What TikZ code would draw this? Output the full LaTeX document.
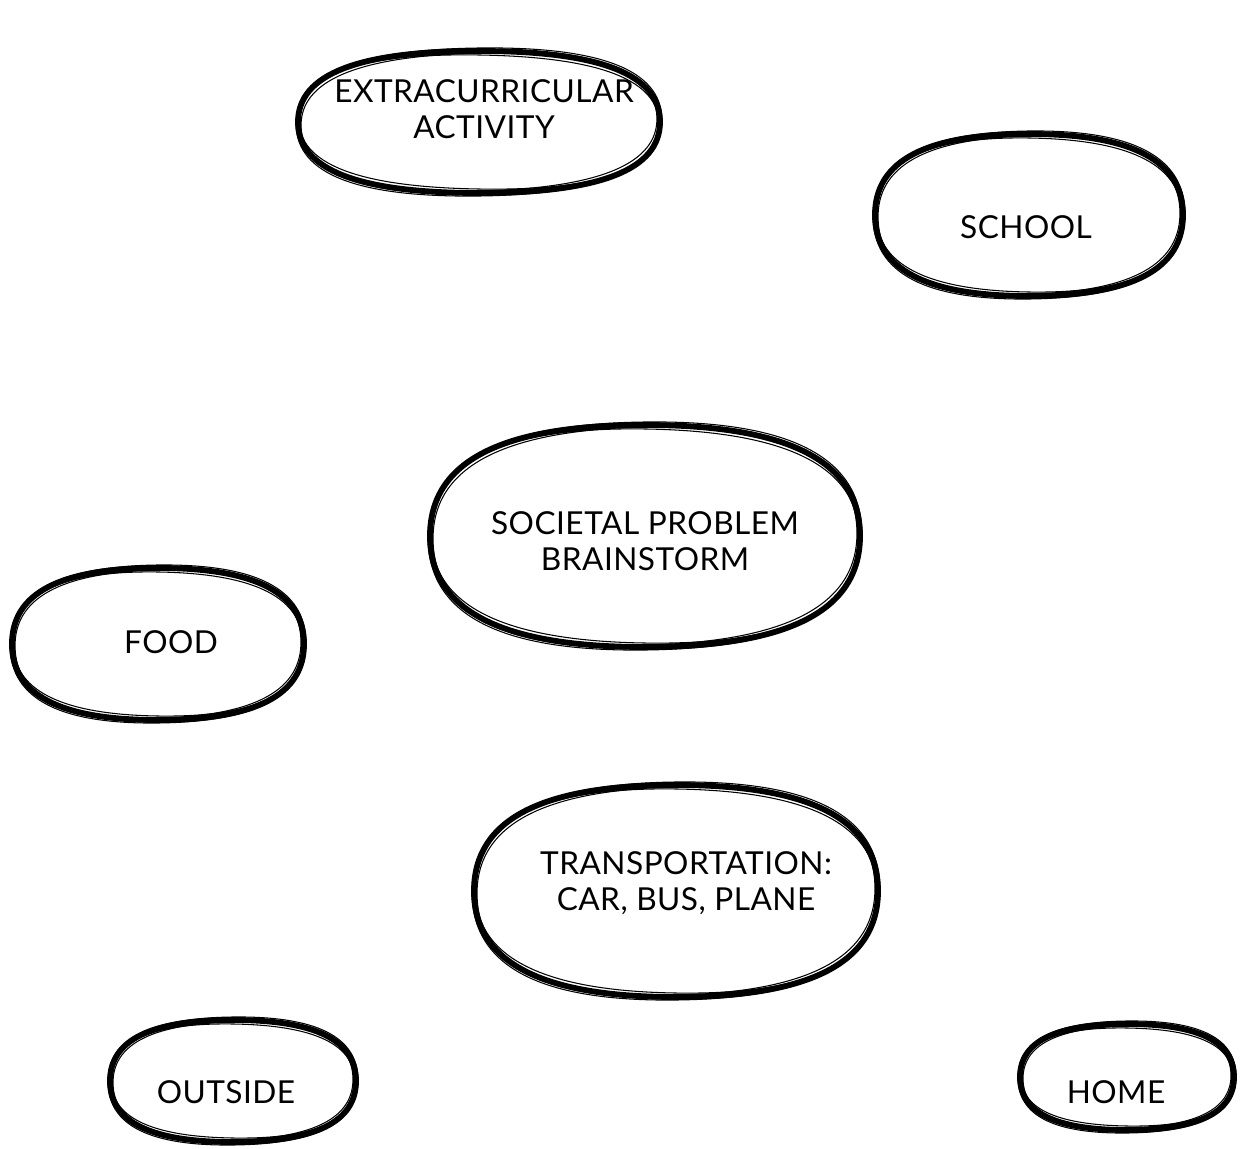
\documentclass[tikz,border=0pt]{standalone}
\usepackage{fontspec}
\setmainfont{Lato}[LetterSpace=1.5]
\usetikzlibrary{positioning}
% one hand-drawn loop: centre x, centre y, radius x, radius y, turn, style
\newcommand{\sketchloop}[6]{%
\draw[#6,shift={(#1,#2)},rotate=#5,xscale=#3,yscale=#4]
(1,0) .. controls (1,.67) and (.67,1) .. (0,1)
.. controls (-.67,1) and (-1,.67) .. (-1,0)
.. controls (-1,-.67) and (-.67,-1) .. (0,-1)
.. controls (.67,-1) and (1,-.67) .. (1,0) -- cycle;}
% three strokes round one spot
\newcommand{\bubble}[4]{%
\sketchloop{#1}{#2}{#3-2}{#4-2}{0}{heavy}
\sketchloop{#1}{#2}{#3-5}{#4-4}{1.5}{fine}
\sketchloop{#1}{#2}{#3-3}{#4-6}{-1}{fine}
\sketchloop{#1}{#2}{#3}{#4+1}{.8}{fine}}

\begin{document}
\begin{tikzpicture}
[x=0.02cm,y=-0.02cm,
heavy/.style={black,line width=3.3pt,line join=round},
fine/.style={black,line width=.6pt},
word/.style={align=center,inner sep=0pt,font=\fontsize{18}{20.4}\selectfont}]
\useasboundingbox (0,0) rectangle (1245,1149);
%%
\node[word] (extra) at (484,109) {EXTRACURRICULAR\\ACTIVITY};
\node[word] (school) at (1026,227) {SCHOOL};
\node[word] (problem) at (645,541) {SOCIETAL PROBLEM\\BRAINSTORM};
\node[word] (food) at (171,642) {FOOD};
\node[word] (transport) at (686,883) {TRANSPORTATION:\\CAR, BUS, PLANE};
\node[word] (outside) at (226,1092) {OUTSIDE};
\node[word] (home) at (1116,1092) {HOME};
%%
\bubble{479}{122}{183}{73}
\bubble{1029}{215}{156}{83}
\bubble{645}{536}{217}{113}
\bubble{158}{644}{148}{78}
\bubble{676}{891}{204}{108}
\bubble{233}{1081}{125}{63}
\bubble{1127}{1077}{109}{55}
\end{tikzpicture}
\end{document}
